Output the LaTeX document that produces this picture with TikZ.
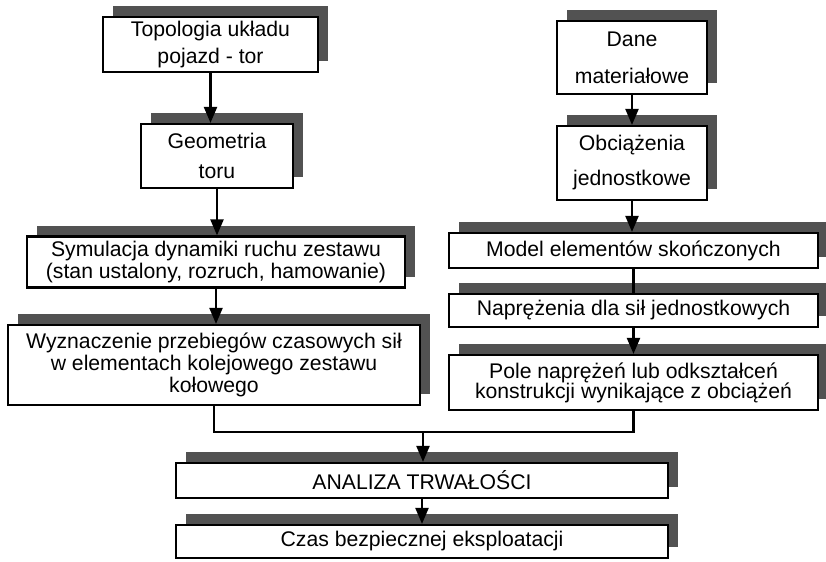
\documentclass[tikz,border=0pt]{standalone}
\usepackage{fontspec}
\setmainfont{Liberation Sans}
\usetikzlibrary{arrows.meta,shadows}

\begin{document}
\begin{tikzpicture}[x=0.5pt,y=-0.5pt,>={Triangle[width=6.5pt,length=8pt]},
font=\fontsize{10.6}{11}\selectfont,
box/.style={draw,line width=1.1pt,fill=white,align=center,inner sep=1pt,
  drop shadow={shadow xshift=5pt,shadow yshift=5.5pt,fill=black!68,opacity=1}},
arr/.style={->,line width=1.1pt},
conn/.style={line width=1.1pt}]
\useasboundingbox (0,0) rectangle (826,562);
% lewa kolumna
\node[box,minimum width=107.5pt,minimum height=27.5pt] (topo) at (210.5,44.5) {Topologia układu\\[2.5pt]pojazd - tor};
\node[box,minimum width=76pt,minimum height=32pt] (geom) at (217,156) {Geometria\\[4pt]toru};
\node[box,minimum width=189pt,minimum height=25.5pt] (sym) at (216,262) {Symulacja dynamiki ruchu zestawu\\(stan ustalony, rozruch, hamowanie)};
\node[box,minimum width=206pt,minimum height=40pt] (wyz) at (214,365) {Wyznaczenie przebiegów czasowych sił\\w elementach kolejowego zestawu\\kołowego};
% prawa kolumna
\node[box,minimum width=75pt,minimum height=36.5pt] (dane) at (632,57.5) {Dane\\[7.5pt]materiałowe};
\node[box,minimum width=75pt,minimum height=37pt] (obc) at (632,163) {Obciążenia\\[6.5pt]jednostkowe};
\node[box,minimum width=184.5pt,minimum height=17.5pt] (model) at (633.5,250.5) {Model elementów skończonych};
\node[box,minimum width=184.5pt,minimum height=16.5pt] (nap) at (633.5,310.5) {Naprężenia dla sił jednostkowych};
\node[box,minimum width=184.5pt,minimum height=27.5pt] (pole) at (633.5,382.5) {Pole naprężeń lub odkształceń\\[-1pt]konstrukcji wynikające z obciążeń};
% dol
\node[box,minimum width=246pt,minimum height=17.5pt] (anal) at (422,480.5) {ANALIZA TRWAŁOŚCI};
\node[box,minimum width=246pt,minimum height=16.5pt] (czas) at (422,541.5) {Czas bezpiecznej eksploatacji};
\coordinate (mrg) at (423,432);
% polaczenia
\draw[arr] (topo.south) -- (topo.south |- geom.north);
\draw[arr] (geom.south) -- (geom.south |- sym.north);
\draw[arr] (sym.south) -- (sym.south |- wyz.north);
\draw[arr] (dane) -- (obc);
\draw[arr] (obc) -- (obc |- model.north);
\draw[conn] (model.south) -- (nap.north);
\draw[arr] (nap) -- (pole);
\draw[conn] (wyz.south) |- (mrg) -| (pole.south);
\draw[arr] (mrg) -- (mrg |- anal.north);
\draw[arr] (anal) -- (czas);
\end{tikzpicture}
\end{document}
